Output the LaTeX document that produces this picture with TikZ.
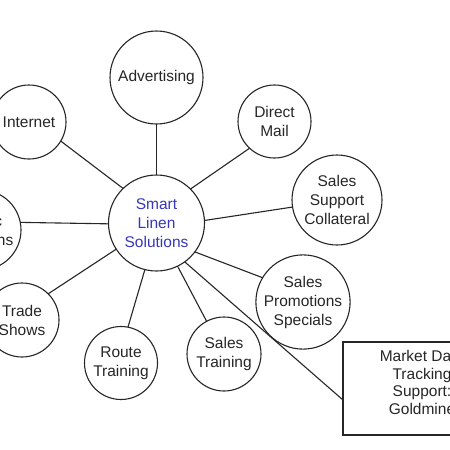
\documentclass[tikz,border=0pt]{standalone}
\usepackage{fontspec}
\setmainfont{Liberation Sans}
\begin{document}
\begin{tikzpicture}[x=1pt,y=-1pt,
  bubble/.style={draw=black!85, line width=1.1pt, circle, inner sep=0pt, outer sep=0pt,
    align=center, text=black!85, font=\fontsize{15.5}{19}\selectfont},
  boxnode/.style={draw=black!85, line width=1.1pt, rectangle, inner sep=0pt, outer sep=0pt,
    minimum width=153pt, minimum height=93pt, align=center, text=black!85,
    font=\fontsize{15.5}{18}\selectfont},
  link/.style={draw=black!85, line width=1.1pt}]
\definecolor{slsblue}{RGB}{55,55,185}
\path[use as bounding box, clip] (0,0) rectangle (450,450);
\fill[white] (0,0) rectangle (450,450);
\node[bubble, minimum size=96pt, text=slsblue] (sls) at (156.5,223) {Smart\\Linen\\Solutions};
\node[bubble, minimum size=93pt] (adv) at (156.5,77.5) {Advertising};
\node[bubble, minimum size=74pt] (inet) at (29,122) {Internet};
\node[bubble, minimum size=73pt] (dm) at (274.5,121.5) {Direct\\Mail};
\node[bubble, minimum size=90pt] (ssc) at (337,200) {Sales\\Support\\Collateral};
\node[bubble, minimum size=80pt] (pr) at (-19,230) {Public\\Relations};
\node[bubble, minimum size=74pt] (ts) at (22,320) {Trade\\Shows};
\node[bubble, minimum size=73pt] (rt) at (121,363) {Route\\Training};
\node[bubble, minimum size=74pt] (st) at (224,354) {Sales\\Training};
\node[bubble, minimum size=88pt] (sp) at (303,302) {Sales\\Promotions\\Specials};
\node[boxnode] (box) at (419.5,388.5) {};
\node[align=center, text=black!85, font=\fontsize{15.5}{17.7}\selectfont, inner sep=0pt] (boxtext) at (422,382.5) {Market Data\\Tracking\hspace{0.5em}\\Support:\\Goldmine};
\draw[link] (sls) -- (adv);
\draw[link] (sls.134) -- (inet.329.5);
\draw[link] (sls.45) -- (dm.227);
\draw[link] (sls.3) -- (ssc.189);
\draw[link] (sls.181) -- (pr.11);
\draw[link] (sls.213.7) -- (ts.45);
\draw[link] (sls.256.5) -- (rt.79);
\draw[link] (sls.296) -- (st.118);
\draw[link] (sls.323.5) -- (sp.149);
\draw[link] (sls.306) -- ([yshift=-11.5pt]box.west);
\end{tikzpicture}
\end{document}
